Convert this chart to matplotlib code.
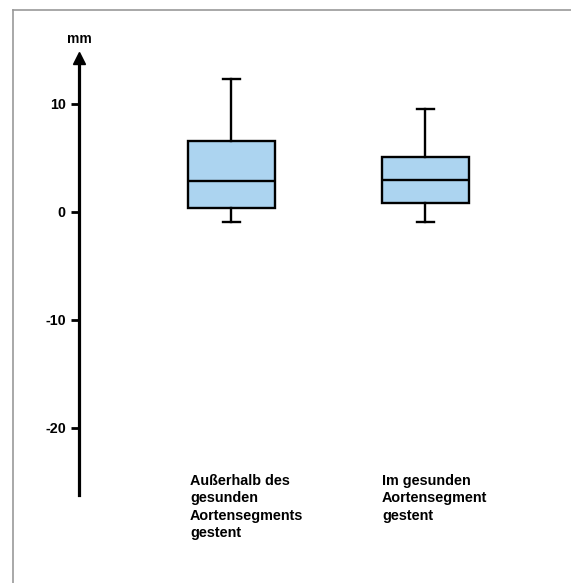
import matplotlib
matplotlib.use("Agg")
import matplotlib.pyplot as plt
from matplotlib.lines import Line2D

plt.rcParams["font.family"] = ["Liberation Sans", "DejaVu Sans"]

# box statistics (mm)
groups = ["Außerhalb des\ngesunden\nAortensegments\ngestent",
          "Im gesunden\nAortensegment\ngestent"]
whisker_low = [-0.9, -0.9]
q1 = [0.4, 0.8]
median = [2.9, 3.0]
q3 = [6.6, 5.1]
whisker_high = [12.3, 9.5]

yticks = [-20, -10, 0, 10]
ylabel = "mm"

W, H = 571, 583
fig = plt.figure(figsize=(W / 100, H / 100), dpi=100)

# axes covering the whole width, y range picked so 0 sits at px 212
ymin, ymax = -30, 17
px_per_unit = 10.8
bottom = (H - (212 + (-ymin) * px_per_unit)) / H
top = (H - (212 - ymax * px_per_unit)) / H
ax = fig.add_axes([0, bottom, 1, top - bottom])
ax.patch.set_alpha(0)

x0 = 1 - 231.5 / 194
x1 = 1 + (W - 231.5) / 194
ax.set_xlim(x0, x1)
ax.set_ylim(ymin, ymax)

stats = []
for i in range(len(groups)):
    stats.append({
        "whislo": whisker_low[i], "q1": q1[i], "med": median[i],
        "q3": q3[i], "whishi": whisker_high[i], "fliers": [],
    })

ax.bxp(stats, positions=[1, 2], widths=0.448, patch_artist=True,
       showfliers=False, capwidths=0.085,
       boxprops=dict(facecolor="#acd4f0", edgecolor="black", linewidth=1.7),
       medianprops=dict(color="black", linewidth=1.7),
       whiskerprops=dict(color="black", linewidth=1.7),
       capprops=dict(color="black", linewidth=1.7))

# y axis as a spine with an arrowhead
yaxis_x = 1 - (231.5 - 79) / 194
for s in ["top", "right", "bottom"]:
    ax.spines[s].set_visible(False)
ax.spines["left"].set_position(("data", yaxis_x))
ax.spines["left"].set_linewidth(2.3)
ax.spines["left"].set_bounds(-26.2, 14.2)
ax.plot([yaxis_x], [14.3], marker="^", markersize=9, color="black",
        clip_on=False)
ax.set_yticks(yticks)
ax.set_yticklabels([str(t) for t in yticks], fontsize=10.3, fontweight="bold")
ax.tick_params(axis="y", length=5.5, width=2, pad=4)
ax.set_xticks([])

ax.text(yaxis_x, 16.0, ylabel, ha="center", va="center",
        fontsize=10, fontweight="bold")

# category labels below the plot
label_x = [190, 382]
for lx, g in zip(label_x, groups):
    fig.text(lx / W, 1 - 474 / H, g, ha="left", va="top",
             fontsize=10.4, fontweight="bold", linespacing=1.3)

# light grey frame at top and left
fig.add_artist(Line2D([12.5 / W, 1], [1 - 10 / H, 1 - 10 / H],
                      color="#999999", linewidth=1.2))
fig.add_artist(Line2D([12.5 / W, 12.5 / W], [0, 1 - 10 / H],
                      color="#999999", linewidth=1.2))

fig.savefig("out.png", dpi=100)
